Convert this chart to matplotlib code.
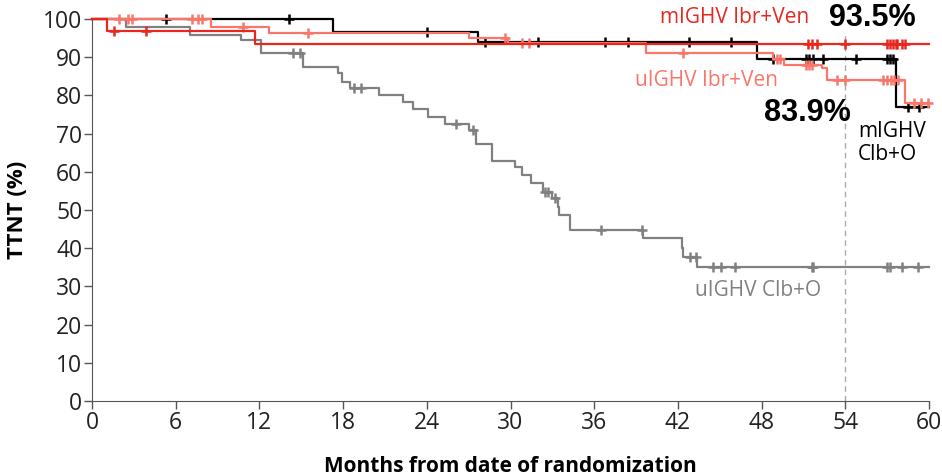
import numpy as np
import matplotlib
matplotlib.use("Agg")
import matplotlib.pyplot as plt

plt.rcParams['font.family'] = ['Open Sans', 'DejaVu Sans']

# Kaplan-Meier style step data (months, TTNT %)
red_t = [0, 1.1, 11.7]
red_s = [100, 96.8, 93.5]
red_c = [1.6, 3.9, 51.3, 51.6, 52.0, 54.0, 57.0, 57.2, 57.4, 57.6, 57.7, 58.1, 58.3]

sal_t = [0, 8.5, 12.7, 27.0, 29.8, 39.7, 48.8, 49.6, 52.3, 52.7, 58.3]
sal_s = [100, 98.0, 96.3, 95.0, 93.6, 91.2, 89.4, 88.0, 87.1, 83.9, 78.0]
sal_c = [1.9, 2.6, 2.9, 7.2, 7.6, 7.9, 10.8, 15.5, 29.6, 30.8, 31.3, 42.4,
         49.1, 49.3, 51.2, 51.4, 51.6, 53.4, 54.0, 56.7, 57.0, 57.3, 57.5, 57.8,
         58.9, 59.4, 59.9]

blk_t = [0, 17.3, 27.7, 47.7, 57.6]
blk_s = [100, 96.7, 93.9, 89.4, 77.0]
blk_c = [5.3, 14.1, 24.0, 28.2, 32.0, 36.8, 38.4, 42.8, 45.8, 48.8, 51.2, 51.4,
         51.7, 52.4, 54.8, 57.0, 57.2, 57.4, 58.5, 59.3]

grey_t = [0, 2.4, 7.0, 10.7, 12.1, 15.1, 17.6, 17.9, 18.5, 20.6, 22.3, 23.0, 24.1,
          25.3, 27.0, 27.5, 28.7, 30.3, 30.8, 31.5, 32.3, 33.0, 33.4, 33.5, 34.3,
          39.5, 42.3, 42.4, 43.4]
grey_s = [100, 98.0, 95.9, 94.4, 91.0, 87.5, 85.8, 83.6, 81.9, 80.1, 78.4, 76.4, 74.4,
          72.5, 70.9, 67.3, 62.9, 61.3, 59.2, 57.1, 54.8, 53.1, 50.9, 48.7, 44.8,
          42.6, 40.0, 37.8, 35.0]
grey_c = [14.4, 14.9, 18.8, 19.3, 26.1, 27.3, 32.5, 32.7, 33.2, 36.5, 39.4, 42.9,
          43.3, 44.5, 45.1, 46.1, 51.6, 51.7, 57.0, 57.2, 58.1, 59.2]

end_time = 60
x_ticks = list(range(0, 61, 6))
y_ticks = list(range(0, 101, 10))

RED = '#e8281e'
SALMON = '#f8766a'
BLACK = '#000000'
GREY = '#808080'


def draw_km(ax, t, s, c, color, z):
    t = np.array(t + [end_time])
    s = np.array(s + [s[-1]])
    ax.step(t, s, where='post', color=color, lw=1.6, zorder=z, clip_on=False)
    idx = np.searchsorted(t, c, side='right') - 1
    ax.plot(c, s[idx], ls='none', marker='+', color=color, ms=7, mew=1.8,
            zorder=z, clip_on=False)


fig = plt.figure(figsize=(9.42, 4.76), dpi=100)
ax = fig.add_axes([0.0977, 0.1576, 0.8885, 0.8025])

ax.axvline(54, ymin=0, ymax=0.965, color='#aaaaaa', lw=1, ls=(0, (4, 3)), zorder=1)

draw_km(ax, grey_t, grey_s, grey_c, GREY, 2)
draw_km(ax, blk_t, blk_s, blk_c, BLACK, 3)
draw_km(ax, sal_t, sal_s, sal_c, SALMON, 4)
draw_km(ax, red_t, red_s, red_c, RED, 5)

ax.set_xlim(0, 60)
ax.set_ylim(0, 100)
ax.set_xticks(x_ticks)
ax.set_yticks(y_ticks)
ax.tick_params(labelsize=16.5, length=6, width=1, color='#555555', labelcolor='#222222', pad=1)
for side in ['top', 'right']:
    ax.spines[side].set_visible(False)
for side in ['left', 'bottom']:
    ax.spines[side].set_color('#555555')

ax.set_xlabel('Months from date of randomization', fontsize=15, fontweight='bold', labelpad=15)
ax.set_ylabel('TTNT (%)', fontsize=16, fontweight='bold', labelpad=11)

ax.text(40.7, 100.3, 'mIGHV Ibr+Ven', color=RED, fontsize=15, va='center', ha='left')
ax.text(52.8, 100.3, '93.5%', color='black', fontsize=22, fontweight='bold',
        va='center', ha='left', family=['Liberation Sans'])
ax.text(38.9, 84.0, 'uIGHV Ibr+Ven', color=SALMON, fontsize=15, va='center', ha='left')
ax.text(48.2, 75.4, '83.9%', color='black', fontsize=22, fontweight='bold',
        va='center', ha='left', family=['Liberation Sans'])
ax.text(54.9, 67.5, 'mIGHV\nClb+O', color='black', fontsize=15, va='center', ha='left',
        linespacing=1.15)
ax.text(43.2, 28.8, 'uIGHV Clb+O', color=GREY, fontsize=15, va='center', ha='left')

fig.savefig('out.png', dpi=100)
